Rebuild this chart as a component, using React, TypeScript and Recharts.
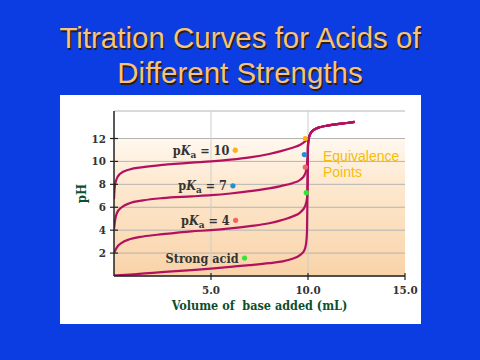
import React from "react";
import {
  LineChart,
  Line,
  XAxis,
  YAxis,
  CartesianGrid,
  ReferenceLine,
  ReferenceDot,
} from "recharts";

// volume of base added (mL) and pH
const strongAcidV = [0, 1, 2, 3, 4, 5, 6, 7, 8, 8.6, 9.2, 9.6, 9.8, 9.9, 9.95, 9.97, 9.99];
const strongAcidPH = [0.05, 0.15, 0.28, 0.4, 0.52, 0.65, 0.8, 0.95, 1.12, 1.25, 1.5, 1.85, 2.2, 2.8, 4, 7, 10];

const pKa4V = [0, 0.15, 0.4, 0.8, 1.5, 2.5, 4, 5, 6, 7, 8, 8.6, 9.2, 9.6, 9.85, 9.95, 9.98];
const pKa4PH = [2.0, 2.5, 2.9, 3.2, 3.45, 3.65, 3.9, 4.0, 4.15, 4.35, 4.6, 4.85, 5.2, 5.55, 6.1, 6.8, 8];

const pKa7V = [0, 0.05, 0.15, 0.4, 0.8, 1.5, 2.5, 4, 5, 6, 7, 8, 8.6, 9.2, 9.6, 9.8, 9.9, 9.95, 9.98];
const pKa7PH = [4.1, 4.8, 5.5, 6.0, 6.35, 6.6, 6.8, 6.95, 7.05, 7.2, 7.4, 7.65, 7.85, 8.1, 8.4, 8.75, 9.2, 9.8, 10.5];

const pKa10V = [0, 0.03, 0.1, 0.3, 0.8, 1.5, 2.5, 4, 5, 6, 7, 8, 8.6, 9.2, 9.6, 9.85];
const pKa10PH = [6.7, 7.6, 8.3, 8.9, 9.3, 9.5, 9.7, 9.9, 10.0, 10.15, 10.35, 10.65, 10.9, 11.2, 11.45, 11.75];

// common branch past the equivalence point
const excessV = [10.0, 10.05, 10.15, 10.3, 10.6, 11, 11.5, 12, 12.4];
const excessPH = [11.4, 12.1, 12.5, 12.75, 12.98, 13.12, 13.25, 13.35, 13.45];

const acidNames = ["pKa = 10", "pKa = 7", "pKa = 4", "Strong acid"];
const labelDotV = [6.25, 6.13, 6.27, 6.73];
const labelDotPH = [10.98, 7.87, 4.86, 1.57];
const eqDotV = [9.86, 9.81, 9.86, 9.91];
const eqDotPH = [12.0, 10.6, 9.5, 7.27];

const xTicks = [5, 10, 15];
const yTicks = [2, 4, 6, 8, 10, 12];
const xGrid = [5, 10];
const yMax = 14.4;
const shadedTop = 12;

const dotColors = ["#f7b31e", "#1f90d8", "#f26464", "#2ee834"];
const curveColor = "#b3115e";
const labelFont = "'DejaVu Serif Condensed', 'Liberation Serif', serif";

function buildCurve(vs: number[], phs: number[]) {
  const pts = vs.map((v, i) => ({ v, ph: phs[i] }));
  const last = pts[pts.length - 1];
  excessV.forEach((v, i) => {
    if (v > last.v && excessPH[i] > last.ph) pts.push({ v, ph: excessPH[i] });
  });
  return pts;
}

const curves = [
  buildCurve(pKa10V, pKa10PH),
  buildCurve(pKa7V, pKa7PH),
  buildCurve(pKa4V, pKa4PH),
  buildCurve(strongAcidV, strongAcidPH),
];

// white above pH 12, peach fading down to the axis
const whiteFrac = ((yMax - shadedTop) / yMax) * 100;

function YTick(props: any) {
  const { x, y, payload } = props;
  return (
    <g>
      <line x1={x + 4} x2={x + 12} y1={y} y2={y} stroke="#222" strokeWidth={1.2} />
      <text x={x} y={y + 4} textAnchor="end" fontSize={11.5} fontWeight={700} fill="#333" fontFamily={labelFont}>
        {payload.value}
      </text>
    </g>
  );
}

function XTick(props: any) {
  const { x, y, payload } = props;
  return (
    <g>
      <line x1={x} x2={x} y1={y - 11} y2={y - 4} stroke="#222" strokeWidth={1.2} />
      <text x={x} y={y + 10} textAnchor="middle" fontSize={11.5} fontWeight={700} fill="#333" fontFamily={labelFont}>
        {payload.value.toFixed(1)}
      </text>
    </g>
  );
}

function AcidLabel({ viewBox, name }: any) {
  const cx = viewBox.x + viewBox.width / 2;
  const cy = viewBox.y + viewBox.height / 2;
  const common = { fontSize: 12.5, fontWeight: 700, fill: "#333", fontFamily: labelFont };
  if (name.startsWith("pKa")) {
    const rest = name.slice(3);
    return (
      <text x={cx - 6} y={cy + 4.5} textAnchor="end" {...common}>
        p<tspan fontStyle="italic">K</tspan>
        <tspan dy={3} fontSize={10}>a</tspan>
        <tspan dy={-3}>{rest}</tspan>
      </text>
    );
  }
  return (
    <text x={cx - 6} y={cy + 4.5} textAnchor="end" {...common}>
      {name}
    </text>
  );
}

export default function App() {
  return (
    <div
      style={{
        position: "fixed",
        left: 0,
        top: 0,
        width: 480,
        height: 360,
        background: "#0b3de2",
        overflow: "hidden",
      }}
    >
      <div
        style={{
          position: "absolute",
          left: 0,
          top: 20,
          width: 480,
          textAlign: "center",
          fontFamily: "'Liberation Sans', Arial, sans-serif",
          fontSize: 29.5,
          lineHeight: "35px",
          color: "#f7c27c",
          textShadow: "1.5px 1.5px 0 #2a2010",
        }}
      >
        Titration Curves for Acids of
        <br />
        Different Strengths
      </div>
      <div
        style={{
          position: "absolute",
          left: 60,
          top: 95,
          width: 361,
          height: 229,
          background: "#ffffff",
        }}
      >
        <LineChart width={361} height={229} margin={{ top: 16, right: 16, bottom: 0, left: 0 }}>
          <defs>
            <linearGradient id="peach" x1="0" y1="0" x2="0" y2="1">
              <stop offset="0%" stopColor="#ffffff" />
              <stop offset={`${whiteFrac - 0.1}%`} stopColor="#ffffff" />
              <stop offset={`${whiteFrac}%`} stopColor="#fff8ee" />
              <stop offset="45%" stopColor="#fde8cf" />
              <stop offset="100%" stopColor="#f9d3a8" />
            </linearGradient>
          </defs>
          <CartesianGrid vertical={false} stroke="#b4b4b4" strokeWidth={1} fill="url(#peach)" fillOpacity={1} />
          {xGrid.map((v) => (
            <ReferenceLine key={v} x={v} stroke="#cdcdcd" strokeWidth={1} />
          ))}
          <XAxis
            type="number"
            dataKey="v"
            domain={[0, 15]}
            ticks={xTicks}
            interval={0}
            height={48}
            axisLine={{ stroke: "#222", strokeWidth: 1.5 }}
            tickLine={false}
            tickSize={0}
            tickMargin={8}
            tick={XTick}
            allowDataOverflow
            label={{
              value: "Volume of\u00a0 base added (mL)",
              position: "insideBottom",
              offset: 14,
              fill: "#0d4f2c",
              fontSize: 12.5,
              fontWeight: 700,
              fontFamily: labelFont,
            }}
          />
          <YAxis
            type="number"
            dataKey="ph"
            domain={[0, yMax]}
            ticks={yTicks}
            interval={0}
            width={54}
            axisLine={{ stroke: "#222", strokeWidth: 1.5 }}
            tickLine={false}
            tickSize={0}
            tickMargin={8}
            tick={YTick}
            allowDataOverflow
            label={{
              content: ({ viewBox }: any) => (
                <text
                  x={viewBox.x + 26}
                  y={viewBox.y + viewBox.height / 2}
                  transform={`rotate(-90 ${viewBox.x + 26} ${viewBox.y + viewBox.height / 2})`}
                  textAnchor="middle"
                  fontSize={13}
                  fontWeight={700}
                  fill="#0d4f2c"
                  fontFamily={labelFont}
                >
                  pH
                </text>
              ),
            }}
          />
          {curves.map((pts, i) => (
            <Line
              key={acidNames[i]}
              data={pts}
              dataKey="ph"
              type="monotone"
              stroke={curveColor}
              strokeWidth={2.2}
              dot={false}
              activeDot={false}
              isAnimationActive={false}
            />
          ))}
          {acidNames.map((name, i) => (
            <ReferenceDot
              key={"l" + name}
              x={labelDotV[i]}
              y={labelDotPH[i]}
              r={2.6}
              fill={dotColors[i]}
              stroke="none"
              label={{ content: (p: any) => <AcidLabel {...p} name={name} /> }}
            />
          ))}
          {acidNames.map((name, i) => (
            <ReferenceDot
              key={"e" + name}
              x={eqDotV[i]}
              y={eqDotPH[i]}
              r={2.6}
              fill={dotColors[i]}
              stroke="none"
            />
          ))}
          <text fontFamily="'Liberation Sans', Arial, sans-serif" fontSize={14} fill="#f5bd0a">
            <tspan x={263} y={66}>Equivalence</tspan>
            <tspan x={263} y={82}>Points</tspan>
          </text>
        </LineChart>
      </div>
    </div>
  );
}
